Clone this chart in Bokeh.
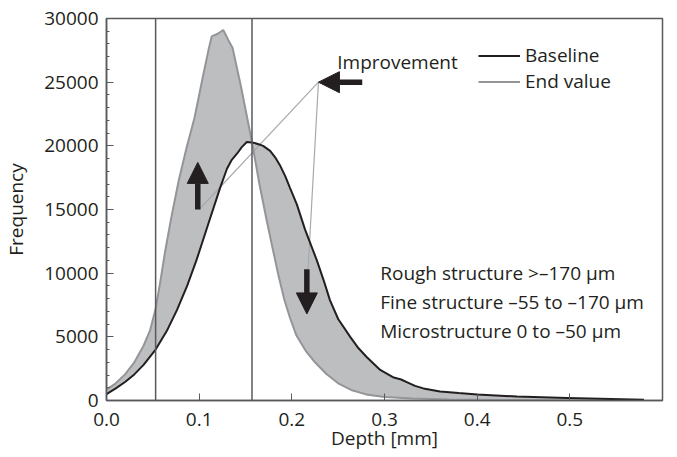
from bokeh.plotting import figure
from bokeh.models import (Range1d, SingleIntervalTicker, NumeralTickFormatter, Span,
                          Arrow, NormalHead, Label, Legend, LegendItem)
from bokeh.embed import file_html
from bokeh.resources import INLINE

# Depth distribution, baseline measurement
base_x = [0.0, 0.01, 0.02, 0.03, 0.04, 0.053, 0.065, 0.076, 0.087, 0.097, 0.11, 0.1226,
          0.13, 0.1352, 0.141, 0.146, 0.1514, 0.1585, 0.165, 0.169, 0.1766, 0.182,
          0.187, 0.193, 0.198, 0.2054, 0.2144, 0.227, 0.235, 0.241, 0.25, 0.263,
          0.272, 0.281, 0.2954, 0.31, 0.318, 0.324, 0.333, 0.342, 0.36, 0.38, 0.40,
          0.443, 0.497, 0.58]
base_y = [500, 950, 1450, 2050, 2800, 4000, 5450, 7100, 9000, 11000, 13900, 16700,
          18200, 18900, 19400, 19900, 20300, 20250, 20100, 20000, 19600, 19100,
          18500, 17600, 16700, 15400, 13400, 11000, 9300, 7900, 6400, 5000,
          4100, 3400, 2400, 1800, 1650, 1450, 1150, 950, 700, 580, 470,
          310, 200, 50]

# Depth distribution, end value
end_x = [0.0, 0.01, 0.02, 0.03, 0.04, 0.047, 0.053, 0.058, 0.063, 0.07, 0.078, 0.0866,
         0.095, 0.1045, 0.11, 0.1136, 0.12, 0.126, 0.1315, 0.136, 0.145, 0.157, 0.165,
         0.173, 0.185, 0.192, 0.198, 0.205, 0.215, 0.225, 0.237, 0.25, 0.265, 0.28,
         0.3, 0.33, 0.37, 0.42, 0.5, 0.58]
end_y = [850, 1350, 2050, 3000, 4300, 5500, 7200, 9300, 11600, 14400, 17300, 19900,
         22200, 25600, 27500, 28600, 28800, 29100, 28300, 27700, 24700, 20300, 17000,
         14100, 10000, 7900, 6500, 5100, 3900, 3000, 2100, 1350, 800, 480,
         280, 150, 80, 40, 15, 0]

# Structure class boundaries [mm]
boundaries = [0.053, 0.157]

# "Improvement" pointer lines and arrows (data coordinates)
pointer_hub = (0.2287, 25000)
pointer_ends = [(0.1, 15000), (0.2175, 10300)]
arrow_up = (0.0985, 15000, 0.0985, 18700)
arrow_down = (0.2162, 10300, 0.2162, 6800)
arrow_left = (0.276, 25000, 0.2287, 25000)

notes = ["Rough structure >\u2013170 \u00b5m",
         "Fine structure \u201355 to \u2013170 \u00b5m",
         "Microstructure 0 to \u201350 \u00b5m"]
note_y = [10050, 7750, 5420]

FONT = "Open Sans"
SIZE = "19px"
INK = "#231f20"
FILL = "#bcbec0"
GREY_LINE = "#939598"
FRAME = "#58595b"

p = figure(width=677, height=457, output_backend="svg", toolbar_location=None,
           x_range=Range1d(0, 0.6), y_range=Range1d(0, 30000),
           min_border_left=106, min_border_right=15, min_border_top=18,
           min_border_bottom=57)
p.background_fill_color = "white"
p.border_fill_color = "white"
p.outline_line_color = FRAME
p.outline_line_width = 1.5
p.grid.visible = False

# Shaded band between the two curves
p.patch(x=end_x + base_x[::-1], y=end_y + base_y[::-1],
        fill_color=FILL, line_color=None)

for b in boundaries:
    p.add_layout(Span(location=b, dimension="height", line_color=FRAME,
                      line_width=1.5))

# Pointer lines
for ex, ey in pointer_ends:
    p.line([ex, pointer_hub[0]], [ey, pointer_hub[1]], line_color="#a7a9ac",
           line_width=1.2)

end_line = p.line(end_x, end_y, line_color=GREY_LINE, line_width=2)
base_line = p.line(base_x, base_y, line_color=INK, line_width=2)

for (x0, y0, x1, y1) in (arrow_up, arrow_down, arrow_left):
    p.add_layout(Arrow(x_start=x0, y_start=y0, x_end=x1, y_end=y1,
                       line_color=INK, line_width=5.5,
                       end=NormalHead(size=21, fill_color=INK, line_color=INK,
                                      line_width=1)))

p.add_layout(Label(x=0.249, y=26600, text="Improvement", text_font=FONT,
                   text_font_size=SIZE, text_color=INK, text_baseline="middle"))

for t, yy in zip(notes, note_y):
    p.add_layout(Label(x=0.2954, y=yy, text=t, text_font=FONT,
                       text_font_size=SIZE, text_color=INK,
                       text_baseline="middle"))

legend = Legend(items=[LegendItem(label="Baseline", renderers=[base_line]),
                       LegendItem(label="End value", renderers=[end_line])],
                location=(372, 306), glyph_width=42, glyph_height=21,
                label_height=21, label_standoff=5, spacing=-4, padding=0,
                margin=0, border_line_color=None, background_fill_alpha=0,
                label_text_font=FONT, label_text_font_size=SIZE,
                label_text_color=INK)
p.add_layout(legend)

# Axes
p.xaxis.ticker = SingleIntervalTicker(interval=0.1, num_minor_ticks=0)
p.xaxis.formatter = NumeralTickFormatter(format="0.0")
p.yaxis.ticker = SingleIntervalTicker(interval=5000, num_minor_ticks=5)
for ax in (p.xaxis, p.yaxis):
    ax.axis_line_color = FRAME
    ax.axis_line_width = 1.5
    ax.major_tick_in = 7
    ax.major_tick_out = 0
    ax.minor_tick_in = 3
    ax.minor_tick_out = 0
    ax.major_tick_line_color = FRAME
    ax.minor_tick_line_color = FRAME
    ax.major_label_text_font = FONT
    ax.major_label_text_font_size = SIZE
    ax.major_label_text_color = INK
    ax.axis_label_text_font = FONT
    ax.axis_label_text_font_size = SIZE
    ax.axis_label_text_font_style = "normal"
    ax.axis_label_text_color = INK
p.xaxis.minor_tick_line_color = None
p.xaxis.axis_label = "Depth [mm]"
p.yaxis.axis_label = "Frequency"
p.xaxis.major_label_standoff = 12
p.yaxis.major_label_standoff = 8
p.xaxis.axis_label_standoff = -4
p.yaxis.axis_label_standoff = 12

open("out.html", "w").write(file_html(p, INLINE))
